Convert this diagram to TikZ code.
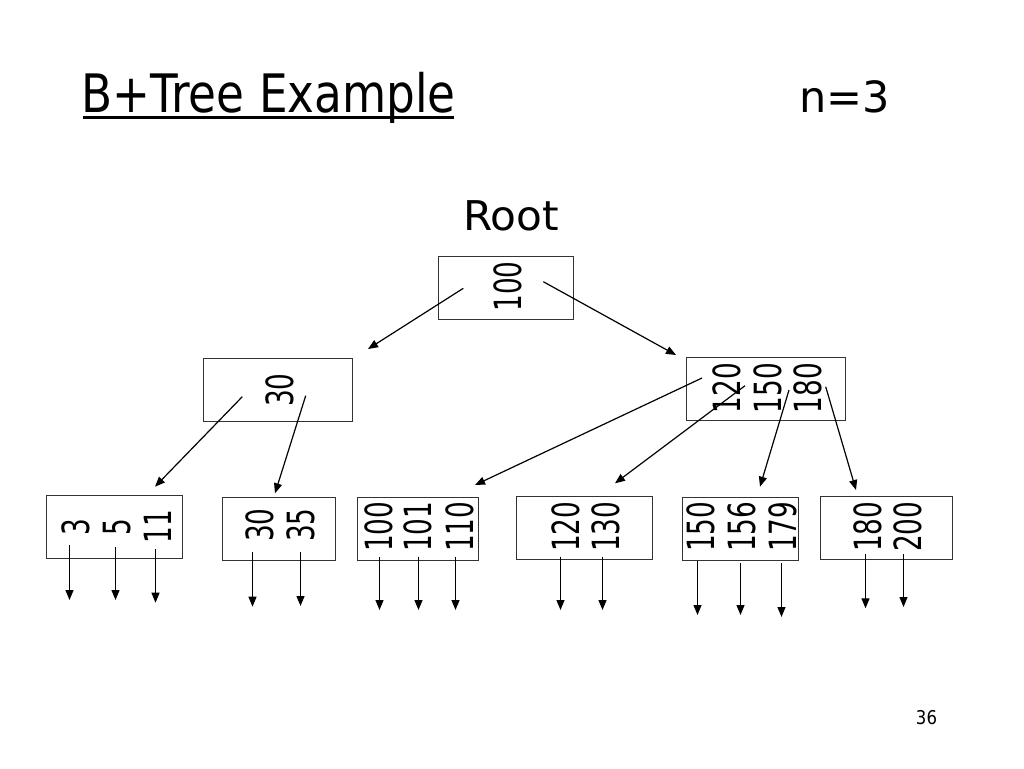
\documentclass[tikz,border=0pt]{standalone}
\usepackage{fontspec}
\setmainfont{DejaVu Sans}
\usetikzlibrary{arrows.meta}
\newcommand\vlab[1]{\scalebox{0.70}[1]{\fontsize{37.5}{37.5}\selectfont #1}}
\begin{document}
\begin{tikzpicture}[x=1pt,y=-1pt,
  keybox/.style={draw=black!80, line width=1pt, inner sep=0pt},
  keylab/.style={rotate=90, inner sep=0pt},
  ptr/.style={draw=black, line width=1.2pt, -{Triangle[length=10pt,width=8pt]}},
  plain/.style={inner sep=0pt, anchor=base west}]
\useasboundingbox[fill=white] (0,0) rectangle (1024,768);

% title
\node[plain] (title) at (81,112) {\scalebox{0.855}[1]{\fontsize{53}{53}\selectfont B+Tree Example}};
\coordinate (ulA) at (83,117.5);
\coordinate (ulB) at (454,117.5);
\draw[line width=2.5pt] (ulA) -- (ulB);
\node[plain] (nval) at (799,112) {\fontsize{43}{43}\selectfont n=3};
\node[plain] (rootlbl) at (463,230.7) {\scalebox{1.03}[1]{\fontsize{41}{41}\selectfont Root}};
\node[inner sep=0pt, anchor=base] (pg) at (926.5,724.3) {\scalebox{0.87}[1]{\fontsize{19}{19}\selectfont 36}};

% boxes
\node[keybox, minimum width=135pt, minimum height=63pt] (root) at (505.5,287.5) {};
\node[keybox, minimum width=148.7pt, minimum height=63pt] (il) at (278.3,389.8) {};
\node[keybox, minimum width=159.5pt, minimum height=63pt] (ir) at (766.2,389) {};
\node[keybox, minimum width=136.3pt, minimum height=63pt] (l1) at (114.8,526.5) {};
\node[keybox, minimum width=113pt, minimum height=63pt] (l2) at (278.5,528.5) {};
\node[keybox, minimum width=121.3pt, minimum height=63pt] (l3) at (418.3,528.5) {};
\node[keybox, minimum width=135.6pt, minimum height=62.6pt] (l4) at (584.5,528) {};
\node[keybox, minimum width=116pt, minimum height=63.4pt] (l5) at (740.3,529) {};
\node[keybox, minimum width=132pt, minimum height=63.3pt] (l6) at (886.7,527.7) {};

% keys
\node[keylab] (k-root) at (507.5,286.5) {\vlab{100}};
\node[keylab] (k-il) at (280,390) {\vlab{30}};
\node[keylab] (k-ir1) at (726.5,388) {\vlab{120}};
\node[keylab] (k-ir2) at (767.5,388) {\vlab{150}};
\node[keylab] (k-ir3) at (807.5,388) {\vlab{180}};
\node[keylab] (k-l1a) at (75.8,527) {\vlab{3}};
\node[keylab] (k-l1b) at (116.7,527) {\vlab{5}};
\node[keylab] (k-l1c) at (157.5,526.5) {\vlab{11}};
\node[keylab] (k-l2a) at (259.5,525) {\vlab{30}};
\node[keylab] (k-l2b) at (300.5,525) {\vlab{35}};
\node[keylab] (k-l3a) at (378.5,526.7) {\vlab{100}};
\node[keylab] (k-l3b) at (418.3,526.7) {\vlab{101}};
\node[keylab] (k-l3c) at (460,526.7) {\vlab{110}};
\node[keylab] (k-l4a) at (566,526.7) {\vlab{120}};
\node[keylab] (k-l4b) at (606,526.7) {\vlab{130}};
\node[keylab] (k-l5a) at (701,526.7) {\vlab{150}};
\node[keylab] (k-l5b) at (741.7,526.7) {\vlab{156}};
\node[keylab] (k-l5c) at (782.5,526.7) {\vlab{179}};
\node[keylab] (k-l6a) at (867.5,526.7) {\vlab{180}};
\node[keylab] (k-l6b) at (908,526.7) {\vlab{200}};

% tree pointers
\foreach \n/\xa/\ya/\xb/\yb in {
  a1/463.3/288.3/368/349, a2/543.3/281.7/676/355,
  b1/242.3/396.7/155/486.7, b2/305.7/395.7/275/493.3,
  c1/702/378/475/485, c2/745/385.7/615/483.3,
  c3/789/390/760/486.7, c4/825.7/386.7/856/490}
{
  \coordinate (\n s) at (\xa,\ya);
  \coordinate (\n e) at (\xb,\yb);
  \draw[ptr] (\n s) -- (\n e);
}

% leaf pointers
\foreach \n/\x/\ya/\yb in {
  d1/69.5/545/600, d2/115.5/547/600, d3/155.5/549/602.7,
  d4/252.5/552/606.7, d5/300.5/552/606,
  d6/379.5/556.7/610, d7/418.5/556.7/610, d8/455.5/556.7/610,
  d9/560.5/556.7/610, d10/602.5/556.7/610,
  d11/697.5/560.7/615, d12/740.5/562.7/615, d13/781.5/563/617,
  d14/865.5/554/608.3, d15/903.5/554/607}
{
  \coordinate (\n s) at (\x,\ya);
  \coordinate (\n e) at (\x,\yb);
  \draw[ptr] (\n s) -- (\n e);
}
\end{tikzpicture}
\end{document}
